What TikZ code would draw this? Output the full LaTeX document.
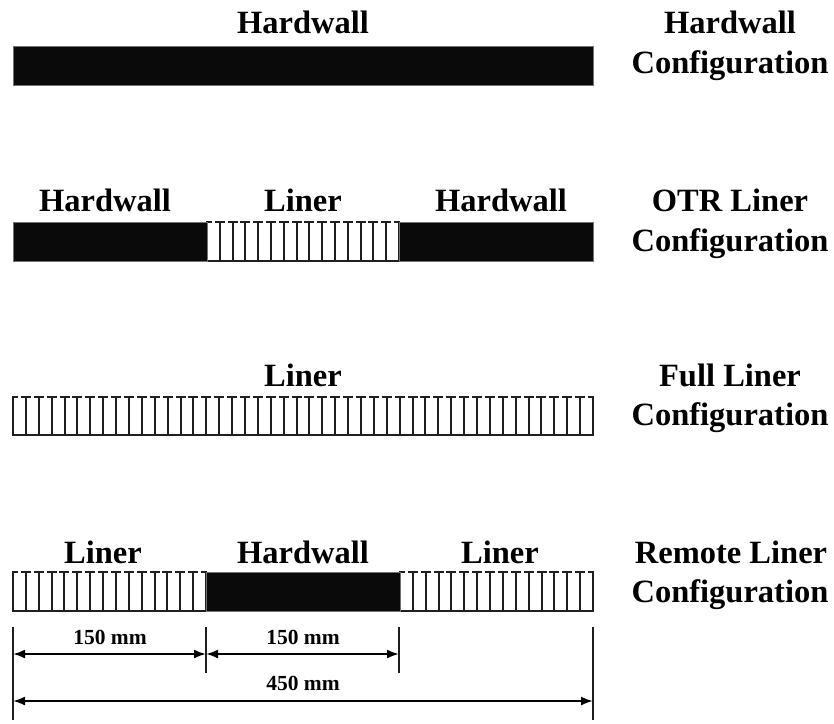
\documentclass[tikz,border=0pt]{standalone}
\usepackage{fontspec}
\setmainfont{Liberation Serif}
\usetikzlibrary{arrows.meta}
\newcommand{\linerseg}[5]{%
  \draw[tooth] (#1,#4) -- (#2,#4);
  \pgfmathsetmacro{\dd}{(#2-#1)/#5}%
  \foreach \k in {0,...,#5}{%
    \pgfmathsetmacro{\xx}{round(#1+\k*\dd)}%
    \pgfmathsetmacro{\xa}{max(#1,\xx-4)}%
    \pgfmathsetmacro{\xb}{min(#2,\xx+4)}%
    \draw[tooth] (\xx,#3) -- (\xx,#4);
    \draw[tooth] (\xa,#3) -- (\xb,#3);
  }%
}
\begin{document}
\begin{tikzpicture}[x=1pt,y=-1pt,
 lbl/.style={font=\fontsize{32.5}{38}\selectfont\bfseries, inner sep=0pt, anchor=base},
 dimtxt/.style={font=\fontsize{21.5}{24}\selectfont\bfseries, inner sep=0pt, anchor=base},
 hw/.style={fill=black!96, draw=black!55, line width=0.8pt},
 tooth/.style={line width=2.3pt, draw=black!88, line cap=rect},
 dimline/.style={line width=2pt, {Latex[length=12pt,width=9pt]}-{Latex[length=12pt,width=9pt]}},
 ext/.style={line width=2pt, draw=black!88}]
\useasboundingbox (0,0) rectangle (834,723);
\fill[white] (0,0) rectangle (834,723);

% ---- Bar 1: Hardwall
\path[hw] (13,46) rectangle (593,85);
\node[lbl] (t1) at (303,33) {Hardwall};
\node[lbl] (c1a) at (730,33) {Hardwall};
\node[lbl] (c1b) at (730,73) {Configuration};

% ---- Bar 2: OTR Liner
\linerseg{207}{399}{222}{261}{15}
\path[hw] (13,222) rectangle (207,261);
\path[hw] (399,222) rectangle (593,261);
\node[lbl] (t2a) at (105,211) {Hardwall};
\node[lbl] (t2b) at (303,211) {Liner};
\node[lbl] (t2c) at (501,211) {Hardwall};
\node[lbl] (c2a) at (730,211) {OTR Liner};
\node[lbl] (c2b) at (730,251) {Configuration};

% ---- Bar 3: Full Liner
\linerseg{13}{593}{397}{435}{45}
\node[lbl] (t3) at (303,386) {Liner};
\node[lbl] (c3a) at (730,386) {Full Liner};
\node[lbl] (c3b) at (730,425) {Configuration};

% ---- Bar 4: Remote Liner
\linerseg{13}{206}{572}{611}{15}
\linerseg{400}{593}{572}{611}{15}
\path[hw] (206,572) rectangle (400,611);
\node[lbl] (t4a) at (103,563) {Liner};
\node[lbl] (t4b) at (303,563) {Hardwall};
\node[lbl] (t4c) at (500,563) {Liner};
\node[lbl] (c4a) at (731,563) {Remote Liner};
\node[lbl] (c4b) at (730,602) {Configuration};

% ---- Dimensions
\coordinate (e0t) at (13,627);   \coordinate (e0b) at (13,720);
\coordinate (e1t) at (206,627);  \coordinate (e1b) at (206,673);
\coordinate (e2t) at (399,627);  \coordinate (e2b) at (399,673);
\coordinate (e3t) at (593,627);  \coordinate (e3b) at (593,720);
\draw[ext] (e0t) -- (e0b);
\draw[ext] (e1t) -- (e1b);
\draw[ext] (e2t) -- (e2b);
\draw[ext] (e3t) -- (e3b);
\coordinate (a0) at (13,654);
\coordinate (a1) at (206,654);
\coordinate (a2) at (399,654);
\coordinate (b0) at (13,701);
\coordinate (b1) at (593,701);
\draw[dimline] (a0) -- (a1);
\draw[dimline] (a1) -- (a2);
\draw[dimline] (b0) -- (b1);
\node[dimtxt] (d1) at (110,644) {150 mm};
\node[dimtxt] (d2) at (303,644) {150 mm};
\node[dimtxt] (d3) at (303,690) {450 mm};
\end{tikzpicture}
\end{document}
